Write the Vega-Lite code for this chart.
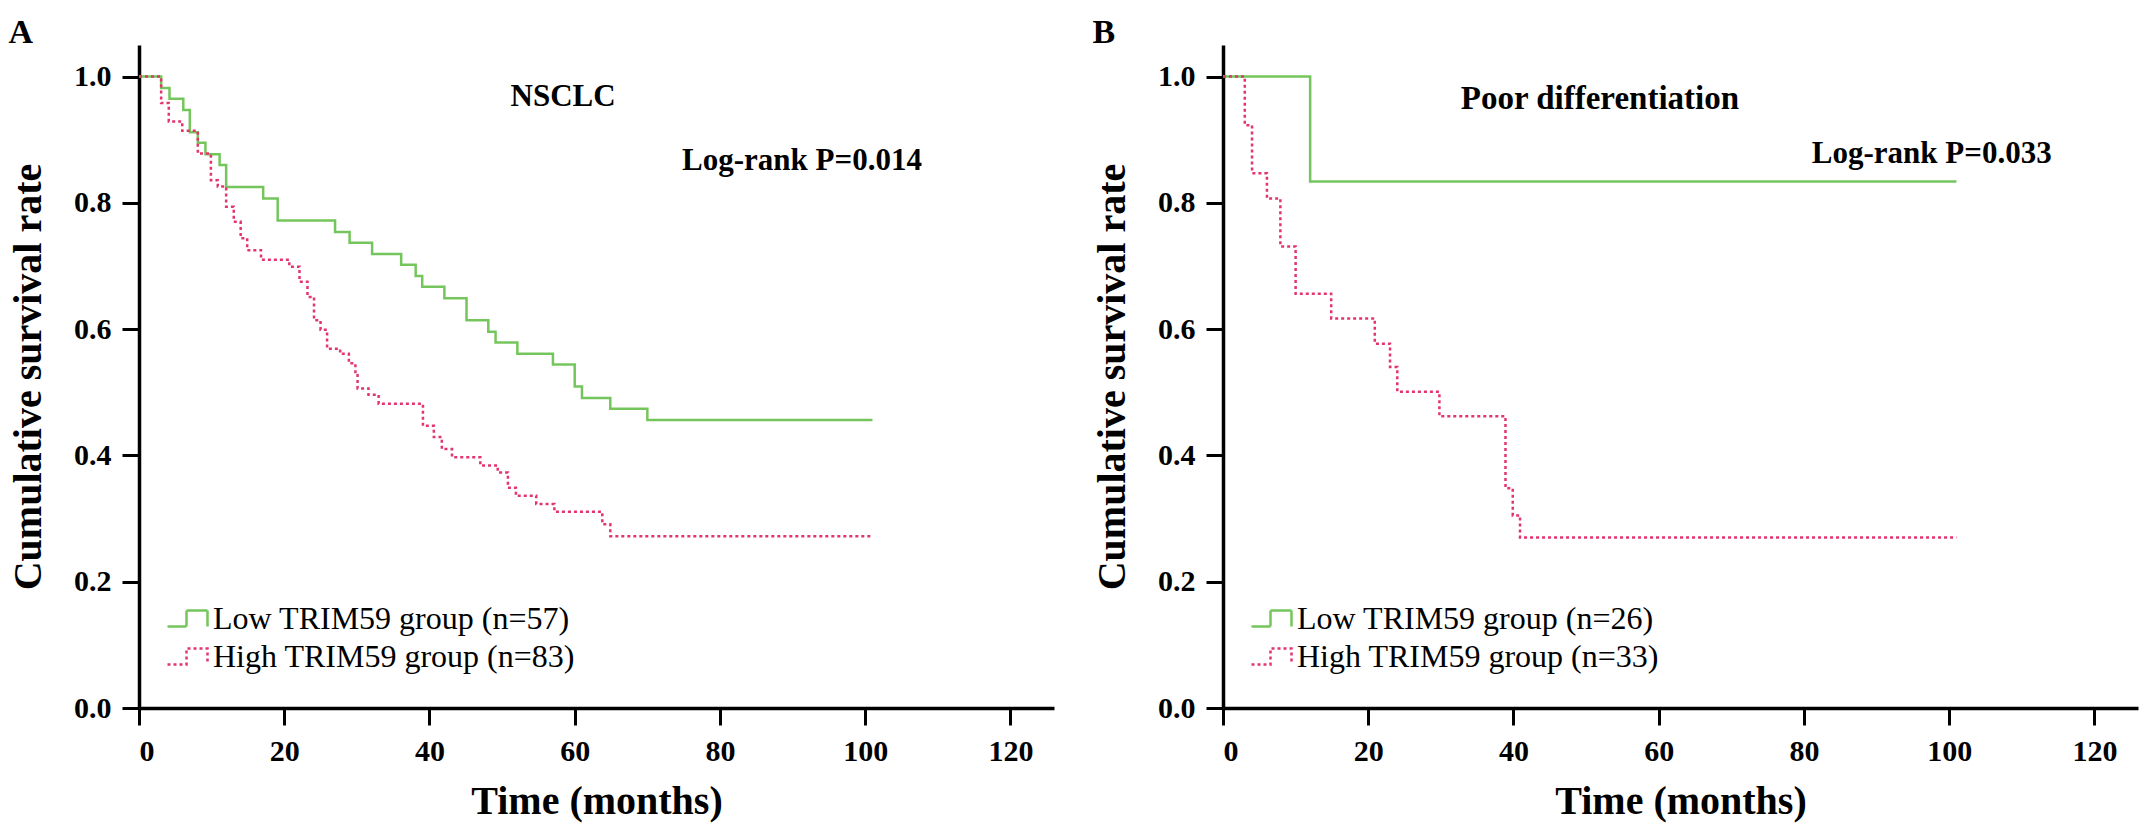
{
  "$schema": "https://vega.github.io/schema/vega-lite/v6.json",
  "background": "white",
  "padding": {"left": 8, "top": 16, "right": 5, "bottom": 5},
  "config": {
    "view": {"stroke": null},
    "font": "Liberation Serif",
    "axis": {
      "grid": false,
      "domainColor": "black",
      "domainWidth": 3.5,
      "tickColor": "black",
      "tickWidth": 3,
      "tickSize": 17,
      "labelFont": "Liberation Serif",
      "labelFontWeight": "bold",
      "labelFontSize": 30,
      "labelColor": "black",
      "labelPadding": 11,
      "titleFont": "Liberation Serif",
      "titleFontWeight": "bold",
      "titleFontSize": 40,
      "titleColor": "black"
    },
    "axisX": {"titlePadding": 15},
    "axisY": {"titlePadding": 25},
    "legend": {
      "labelFont": "Liberation Serif",
      "labelFontSize": 32,
      "labelColor": "black",
      "labelLimit": 0,
      "symbolType": "M -1 0.4 L -0.05 0.4 L -0.05 -0.4 L 1 -0.4 L 1 0.4",
      "symbolSize": 1600,
      "symbolStrokeWidth": 2.5,
      "rowPadding": 0,
      "labelOffset": 4,
      "padding": 0
    },
    "title": {
      "anchor": "start",
      "frame": "bounds",
      "font": "Liberation Serif",
      "fontWeight": "bold",
      "fontSize": 34,
      "color": "black",
      "baseline": "alphabetic",
      "offset": -5
    }
  },
  "datasets": {
    "curvesA": [
      {"group": "Low TRIM59 group (n=57)", "t": 0, "s": 1.0},
      {"group": "Low TRIM59 group (n=57)", "t": 3.05, "s": 0.982},
      {"group": "Low TRIM59 group (n=57)", "t": 4.2, "s": 0.965},
      {"group": "Low TRIM59 group (n=57)", "t": 6.1, "s": 0.947},
      {"group": "Low TRIM59 group (n=57)", "t": 7.0, "s": 0.912},
      {"group": "Low TRIM59 group (n=57)", "t": 8.1, "s": 0.895},
      {"group": "Low TRIM59 group (n=57)", "t": 9.15, "s": 0.877},
      {"group": "Low TRIM59 group (n=57)", "t": 11.1, "s": 0.860},
      {"group": "Low TRIM59 group (n=57)", "t": 12.0, "s": 0.825},
      {"group": "Low TRIM59 group (n=57)", "t": 17.1, "s": 0.807},
      {"group": "Low TRIM59 group (n=57)", "t": 19.1, "s": 0.772},
      {"group": "Low TRIM59 group (n=57)", "t": 27.0, "s": 0.754},
      {"group": "Low TRIM59 group (n=57)", "t": 29.0, "s": 0.737},
      {"group": "Low TRIM59 group (n=57)", "t": 32.1, "s": 0.719},
      {"group": "Low TRIM59 group (n=57)", "t": 36.1, "s": 0.702},
      {"group": "Low TRIM59 group (n=57)", "t": 38.1, "s": 0.684},
      {"group": "Low TRIM59 group (n=57)", "t": 39.0, "s": 0.667},
      {"group": "Low TRIM59 group (n=57)", "t": 42.05, "s": 0.649},
      {"group": "Low TRIM59 group (n=57)", "t": 45.1, "s": 0.614},
      {"group": "Low TRIM59 group (n=57)", "t": 48.1, "s": 0.596},
      {"group": "Low TRIM59 group (n=57)", "t": 49.1, "s": 0.579},
      {"group": "Low TRIM59 group (n=57)", "t": 52.1, "s": 0.561},
      {"group": "Low TRIM59 group (n=57)", "t": 57.0, "s": 0.544},
      {"group": "Low TRIM59 group (n=57)", "t": 60.0, "s": 0.509},
      {"group": "Low TRIM59 group (n=57)", "t": 61.0, "s": 0.491},
      {"group": "Low TRIM59 group (n=57)", "t": 64.9, "s": 0.474},
      {"group": "Low TRIM59 group (n=57)", "t": 70.0, "s": 0.456},
      {"group": "Low TRIM59 group (n=57)", "t": 101.0, "s": 0.456},
      {"group": "High TRIM59 group (n=83)", "t": 0, "s": 1.0},
      {"group": "High TRIM59 group (n=83)", "t": 3.05, "s": 0.958},
      {"group": "High TRIM59 group (n=83)", "t": 4.1, "s": 0.929},
      {"group": "High TRIM59 group (n=83)", "t": 5.95, "s": 0.914},
      {"group": "High TRIM59 group (n=83)", "t": 8.1, "s": 0.878},
      {"group": "High TRIM59 group (n=83)", "t": 9.9, "s": 0.836},
      {"group": "High TRIM59 group (n=83)", "t": 10.85, "s": 0.826},
      {"group": "High TRIM59 group (n=83)", "t": 12.0, "s": 0.794},
      {"group": "High TRIM59 group (n=83)", "t": 13.05, "s": 0.770},
      {"group": "High TRIM59 group (n=83)", "t": 14.0, "s": 0.744},
      {"group": "High TRIM59 group (n=83)", "t": 14.9, "s": 0.725},
      {"group": "High TRIM59 group (n=83)", "t": 16.8, "s": 0.710},
      {"group": "High TRIM59 group (n=83)", "t": 20.7, "s": 0.699},
      {"group": "High TRIM59 group (n=83)", "t": 22.1, "s": 0.675},
      {"group": "High TRIM59 group (n=83)", "t": 23.2, "s": 0.651},
      {"group": "High TRIM59 group (n=83)", "t": 24.1, "s": 0.614},
      {"group": "High TRIM59 group (n=83)", "t": 25.0, "s": 0.599},
      {"group": "High TRIM59 group (n=83)", "t": 25.9, "s": 0.569},
      {"group": "High TRIM59 group (n=83)", "t": 27.7, "s": 0.561},
      {"group": "High TRIM59 group (n=83)", "t": 28.9, "s": 0.546},
      {"group": "High TRIM59 group (n=83)", "t": 29.8, "s": 0.527},
      {"group": "High TRIM59 group (n=83)", "t": 30.1, "s": 0.506},
      {"group": "High TRIM59 group (n=83)", "t": 31.6, "s": 0.496},
      {"group": "High TRIM59 group (n=83)", "t": 33.0, "s": 0.482},
      {"group": "High TRIM59 group (n=83)", "t": 39.1, "s": 0.447},
      {"group": "High TRIM59 group (n=83)", "t": 40.6, "s": 0.429},
      {"group": "High TRIM59 group (n=83)", "t": 41.7, "s": 0.410},
      {"group": "High TRIM59 group (n=83)", "t": 43.1, "s": 0.397},
      {"group": "High TRIM59 group (n=83)", "t": 47.0, "s": 0.384},
      {"group": "High TRIM59 group (n=83)", "t": 49.4, "s": 0.373},
      {"group": "High TRIM59 group (n=83)", "t": 50.8, "s": 0.349},
      {"group": "High TRIM59 group (n=83)", "t": 51.9, "s": 0.336},
      {"group": "High TRIM59 group (n=83)", "t": 54.7, "s": 0.323},
      {"group": "High TRIM59 group (n=83)", "t": 57.2, "s": 0.311},
      {"group": "High TRIM59 group (n=83)", "t": 63.8, "s": 0.291},
      {"group": "High TRIM59 group (n=83)", "t": 64.9, "s": 0.272},
      {"group": "High TRIM59 group (n=83)", "t": 101.0, "s": 0.272}
    ],
    "curvesB": [
      {"group": "Low TRIM59 group (n=26)", "t": 0, "s": 1.0},
      {"group": "Low TRIM59 group (n=26)", "t": 12.0, "s": 0.834},
      {"group": "Low TRIM59 group (n=26)", "t": 101.0, "s": 0.834},
      {"group": "High TRIM59 group (n=33)", "t": 0, "s": 1.0},
      {"group": "High TRIM59 group (n=33)", "t": 3.0, "s": 0.923},
      {"group": "High TRIM59 group (n=33)", "t": 4.0, "s": 0.847},
      {"group": "High TRIM59 group (n=33)", "t": 6.05, "s": 0.807},
      {"group": "High TRIM59 group (n=33)", "t": 7.9, "s": 0.731},
      {"group": "High TRIM59 group (n=33)", "t": 10.0, "s": 0.656},
      {"group": "High TRIM59 group (n=33)", "t": 14.9, "s": 0.617},
      {"group": "High TRIM59 group (n=33)", "t": 20.9, "s": 0.577},
      {"group": "High TRIM59 group (n=33)", "t": 23.0, "s": 0.540},
      {"group": "High TRIM59 group (n=33)", "t": 24.0, "s": 0.501},
      {"group": "High TRIM59 group (n=33)", "t": 29.8, "s": 0.462},
      {"group": "High TRIM59 group (n=33)", "t": 38.9, "s": 0.348},
      {"group": "High TRIM59 group (n=33)", "t": 39.9, "s": 0.305},
      {"group": "High TRIM59 group (n=33)", "t": 40.9, "s": 0.270},
      {"group": "High TRIM59 group (n=33)", "t": 101.0, "s": 0.270}
    ]
  },
  "spacing": 38,
  "resolve": {"scale": {"color": "independent", "strokeDash": "independent"}},
  "hconcat": [
    {
      "width": 915,
      "height": 663,
      "title": {"text": "A"},
      "data": {"name": "curvesA"},
      "layer": [
        {
          "mark": {"type": "line", "interpolate": "step-after", "strokeWidth": 2.5},
          "encoding": {
            "x": {"field": "t", "type": "quantitative", "scale": {"domain": [0, 126], "nice": false}, "axis": {"values": [0, 20, 40, 60, 80, 100, 120], "title": "Time (months)"}},
            "y": {"field": "s", "type": "quantitative", "scale": {"domain": [0, 1.05], "nice": false}, "axis": {"values": [0, 0.2, 0.4, 0.6, 0.8, 1.0], "format": ".1f", "title": "Cumulative survival rate"}},
            "color": {"field": "group", "type": "nominal", "sort": null, "scale": {"domain": ["Low TRIM59 group (n=57)", "High TRIM59 group (n=83)"], "range": ["#74c65c", "#e3346c"]}, "legend": {"title": null, "orient": "none", "legendX": 27, "legendY": 552}},
            "strokeDash": {"field": "group", "type": "nominal", "sort": null, "scale": {"domain": ["Low TRIM59 group (n=57)", "High TRIM59 group (n=83)"], "range": [[1, 0], [3, 3]]}, "legend": {"title": null, "orient": "none", "legendX": 27, "legendY": 552}}
          }
        },
        {
          "data": {"values": [{"label": "NSCLC"}]},
          "mark": {"type": "text", "font": "Liberation Serif", "fontWeight": "bold", "fontSize": 31, "color": "black"},
          "encoding": {"x": {"datum": 58.4, "type": "quantitative"}, "y": {"datum": 0.968, "type": "quantitative"}, "text": {"field": "label"}}
        },
        {
          "data": {"values": [{"label": "Log-rank P=0.014"}]},
          "mark": {"type": "text", "font": "Liberation Serif", "fontWeight": "bold", "fontSize": 31, "color": "black"},
          "encoding": {"x": {"datum": 91.3, "type": "quantitative"}, "y": {"datum": 0.866, "type": "quantitative"}, "text": {"field": "label"}}
        }
      ]
    },
    {
      "width": 915,
      "height": 663,
      "title": {"text": "B"},
      "data": {"name": "curvesB"},
      "layer": [
        {
          "mark": {"type": "line", "interpolate": "step-after", "strokeWidth": 2.5},
          "encoding": {
            "x": {"field": "t", "type": "quantitative", "scale": {"domain": [0, 126], "nice": false}, "axis": {"values": [0, 20, 40, 60, 80, 100, 120], "title": "Time (months)"}},
            "y": {"field": "s", "type": "quantitative", "scale": {"domain": [0, 1.05], "nice": false}, "axis": {"values": [0, 0.2, 0.4, 0.6, 0.8, 1.0], "format": ".1f", "title": "Cumulative survival rate"}},
            "color": {"field": "group", "type": "nominal", "sort": null, "scale": {"domain": ["Low TRIM59 group (n=26)", "High TRIM59 group (n=33)"], "range": ["#74c65c", "#e3346c"]}, "legend": {"title": null, "orient": "none", "legendX": 27, "legendY": 552}},
            "strokeDash": {"field": "group", "type": "nominal", "sort": null, "scale": {"domain": ["Low TRIM59 group (n=26)", "High TRIM59 group (n=33)"], "range": [[1, 0], [3, 3]]}, "legend": {"title": null, "orient": "none", "legendX": 27, "legendY": 552}}
          }
        },
        {
          "data": {"values": [{"label": "Poor differentiation"}]},
          "mark": {"type": "text", "font": "Liberation Serif", "fontWeight": "bold", "fontSize": 33, "color": "black"},
          "encoding": {"x": {"datum": 51.9, "type": "quantitative"}, "y": {"datum": 0.964, "type": "quantitative"}, "text": {"field": "label"}}
        },
        {
          "data": {"values": [{"label": "Log-rank P=0.033"}]},
          "mark": {"type": "text", "font": "Liberation Serif", "fontWeight": "bold", "fontSize": 31, "color": "black"},
          "encoding": {"x": {"datum": 97.6, "type": "quantitative"}, "y": {"datum": 0.878, "type": "quantitative"}, "text": {"field": "label"}}
        }
      ]
    }
  ]
}
